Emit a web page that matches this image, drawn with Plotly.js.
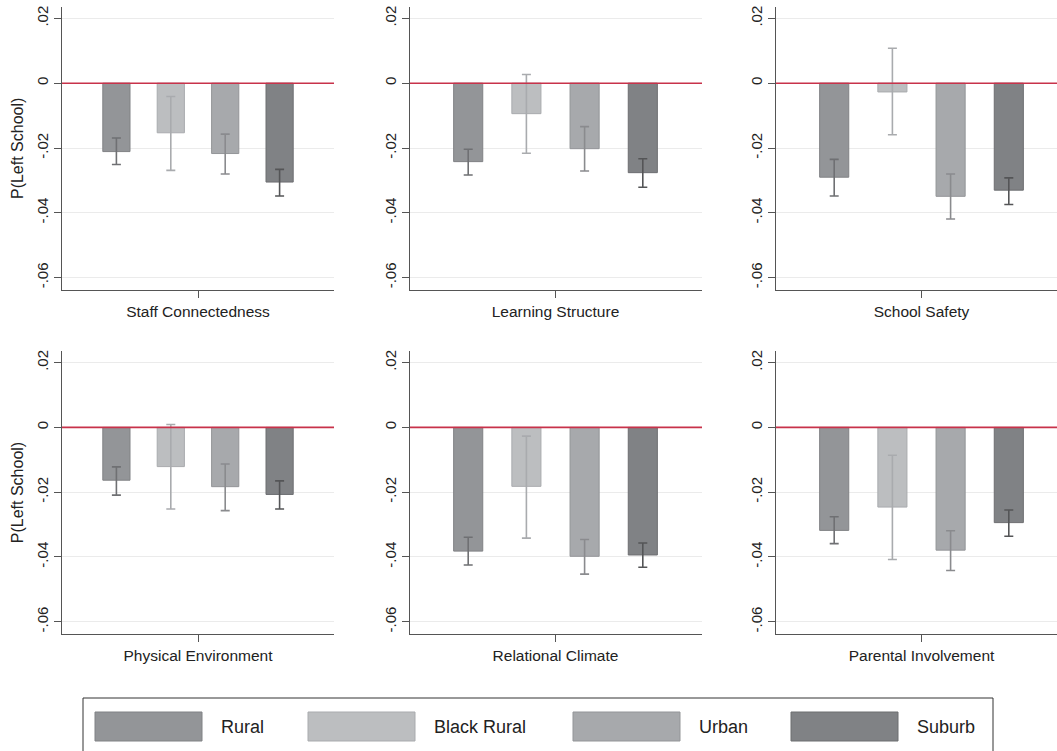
<!DOCTYPE html>
<html>
<head>
<meta charset="utf-8">
<script src="https://cdn.plot.ly/plotly-3.0.1.min.js"></script>
<style>
  html, body { margin: 0; padding: 0; background: #fff; }
  #chart { width: 1057px; height: 751px; }
</style>
</head>
<body>
<div id="chart"></div>
<script>
// Predicted change in P(Left School) by school-climate domain and locale,
// with 95% confidence intervals.
const panels = ['Staff Connectedness', 'Learning Structure', 'School Safety',
                'Physical Environment', 'Relational Climate', 'Parental Involvement'];
const series = ['Rural', 'Black Rural', 'Urban', 'Suburb'];

const yTickVals = [0.02, 0, -0.02, -0.04, -0.06];
const yTickText = ['.02', '0', '-.02', '-.04', '-.06'];

// Point estimates (one value per panel, in panel order)
const rural      = [-0.0211, -0.0242, -0.0290, -0.0163, -0.0382, -0.0318];
const blackRural = [-0.0153, -0.0094, -0.0027, -0.0121, -0.0182, -0.0246];
const urban      = [-0.0217, -0.0202, -0.0349, -0.0183, -0.0398, -0.0379];
const suburb     = [-0.0305, -0.0276, -0.0330, -0.0207, -0.0394, -0.0294];

// Upper and lower confidence limits
const ruralHi      = [-0.0169, -0.0204, -0.0235, -0.0122, -0.0339, -0.0276];
const ruralLo      = [-0.0251, -0.0283, -0.0348, -0.0209, -0.0425, -0.0359];
const blackRuralHi = [-0.0041,  0.0027,  0.0108,  0.0009, -0.0027, -0.0086];
const blackRuralLo = [-0.0269, -0.0216, -0.0159, -0.0252, -0.0342, -0.0408];
const urbanHi      = [-0.0157, -0.0134, -0.0280, -0.0113, -0.0346, -0.0319];
const urbanLo      = [-0.0280, -0.0271, -0.0419, -0.0257, -0.0453, -0.0442];
const suburbHi     = [-0.0266, -0.0233, -0.0292, -0.0165, -0.0357, -0.0255];
const suburbLo     = [-0.0348, -0.0321, -0.0374, -0.0252, -0.0432, -0.0336];

const estimates = [rural, blackRural, urban, suburb];
const upper = [ruralHi, blackRuralHi, urbanHi, suburbHi];
const lower = [ruralLo, blackRuralLo, urbanLo, suburbLo];

// Styling
const W = 1057, H = 751;
const FONT = 'Liberation Sans, Arial, Helvetica, sans-serif';
const fills    = ['#939598', '#bcbec0', '#a7a9ac', '#808285'];
const outlines = ['#808285', '#a9abae', '#939598', '#6d6e71'];
const ciColors = ['#6f7073', '#a9abae', '#8a8b8e', '#545557'];
const axisColor = '#555555';
const gridColor = '#ebebeb';
const zeroColor = '#c8324a';

// Subplot boxes in pixels: [left, right] per column, [top, bottom] per row
const colPx = [[62, 334], [410, 702], [776, 1057]];
const rowPx = [[6.7, 290], [351, 634]];
const pxPerUnit = [54.4, 58.2, 58.2];
const yRange = [-0.0638, 0.0236];

const traces = [];
const layout = {
  width: W, height: H,
  margin: {l: 0, r: 0, t: 0, b: 0},
  paper_bgcolor: '#ffffff', plot_bgcolor: '#ffffff',
  showlegend: false,
  barmode: 'overlay',
  font: {family: FONT, color: '#222222'},
  shapes: [], annotations: []
};

panels.forEach((name, p) => {
  const r = Math.floor(p / 3), c = p % 3;
  const sfx = p === 0 ? '' : String(p + 1);
  const xa = 'x' + sfx, ya = 'y' + sfx;
  const [l, rt] = colPx[c];
  const [tp, bt] = rowPx[r];

  series.forEach((s, i) => {
    const v = estimates[i][p];
    traces.push({
      type: 'bar', xaxis: xa, yaxis: ya,
      x: [i + 1], y: [v], width: 0.5,
      name: s, hoverinfo: 'name+y',
      marker: {color: fills[i], line: {color: outlines[i], width: 1}},
      error_y: {
        type: 'data', symmetric: false,
        array: [upper[i][p] - v], arrayminus: [v - lower[i][p]],
        color: ciColors[i], thickness: 1.6, width: 4.5
      }
    });
  });

  layout['xaxis' + sfx] = {
    domain: [l / W, rt / W], anchor: ya,
    range: [0, (rt - l) / pxPerUnit[c]],
    tickvals: [2.5], ticktext: [name],
    ticks: 'outside', ticklen: 7, tickwidth: 1, tickcolor: axisColor,
    tickfont: {size: 15.5, family: FONT, color: '#222222'},
    showline: true, linecolor: axisColor, linewidth: 1,
    showgrid: false, zeroline: false, fixedrange: true
  };
  layout['yaxis' + sfx] = {
    domain: [1 - bt / H, 1 - tp / H], anchor: xa,
    range: yRange,
    tickvals: yTickVals, ticktext: yTickText, tickangle: -90,
    ticks: 'outside', ticklen: 7, tickwidth: 1, tickcolor: axisColor,
    tickfont: {size: 15, family: FONT, color: '#222222'},
    showline: true, linecolor: axisColor, linewidth: 1,
    showgrid: true, gridcolor: gridColor, gridwidth: 1,
    zeroline: false, fixedrange: true
  };
  if (c === 0) {
    layout['yaxis' + sfx].title = {text: 'P(Left School)', font: {size: 16, family: FONT, color: '#222222'}, standoff: 6};
  }

  // Reference line at zero across the panel
  layout.shapes.push({
    type: 'line', layer: 'above',
    xref: xa + ' domain', yref: ya,
    x0: 0, x1: 1, y0: 0, y1: 0,
    line: {color: zeroColor, width: 1.6}
  });
});

// Legend box drawn along the bottom
const legendBox = {left: 83, right: 993, top: 698, bottom: 752};
const swatchLeft = [95, 308, 573, 791];
const swatchW = 107, swatchTop = 712, swatchBottom = 741;
const labelGap = 17;

layout.shapes.push({
  type: 'rect', xref: 'paper', yref: 'paper',
  x0: legendBox.left / W, x1: legendBox.right / W,
  y0: 1 - legendBox.bottom / H, y1: 1 - legendBox.top / H,
  line: {color: '#333333', width: 1}, fillcolor: 'rgba(0,0,0,0)'
});
series.forEach((s, i) => {
  const x0 = swatchLeft[i];
  layout.shapes.push({
    type: 'rect', xref: 'paper', yref: 'paper',
    x0: x0 / W, x1: (x0 + swatchW) / W,
    y0: 1 - swatchBottom / H, y1: 1 - swatchTop / H,
    line: {color: outlines[i], width: 1}, fillcolor: fills[i]
  });
  layout.annotations.push({
    xref: 'paper', yref: 'paper',
    x: (x0 + swatchW + labelGap) / W, y: 1 - (swatchTop + swatchBottom) / 2 / H,
    xanchor: 'left', yanchor: 'middle', showarrow: false,
    text: s, font: {size: 18, family: FONT, color: '#222222'}
  });
});

Plotly.newPlot('chart', traces, layout, {displayModeBar: false, staticPlot: true});
</script>
</body>
</html>
